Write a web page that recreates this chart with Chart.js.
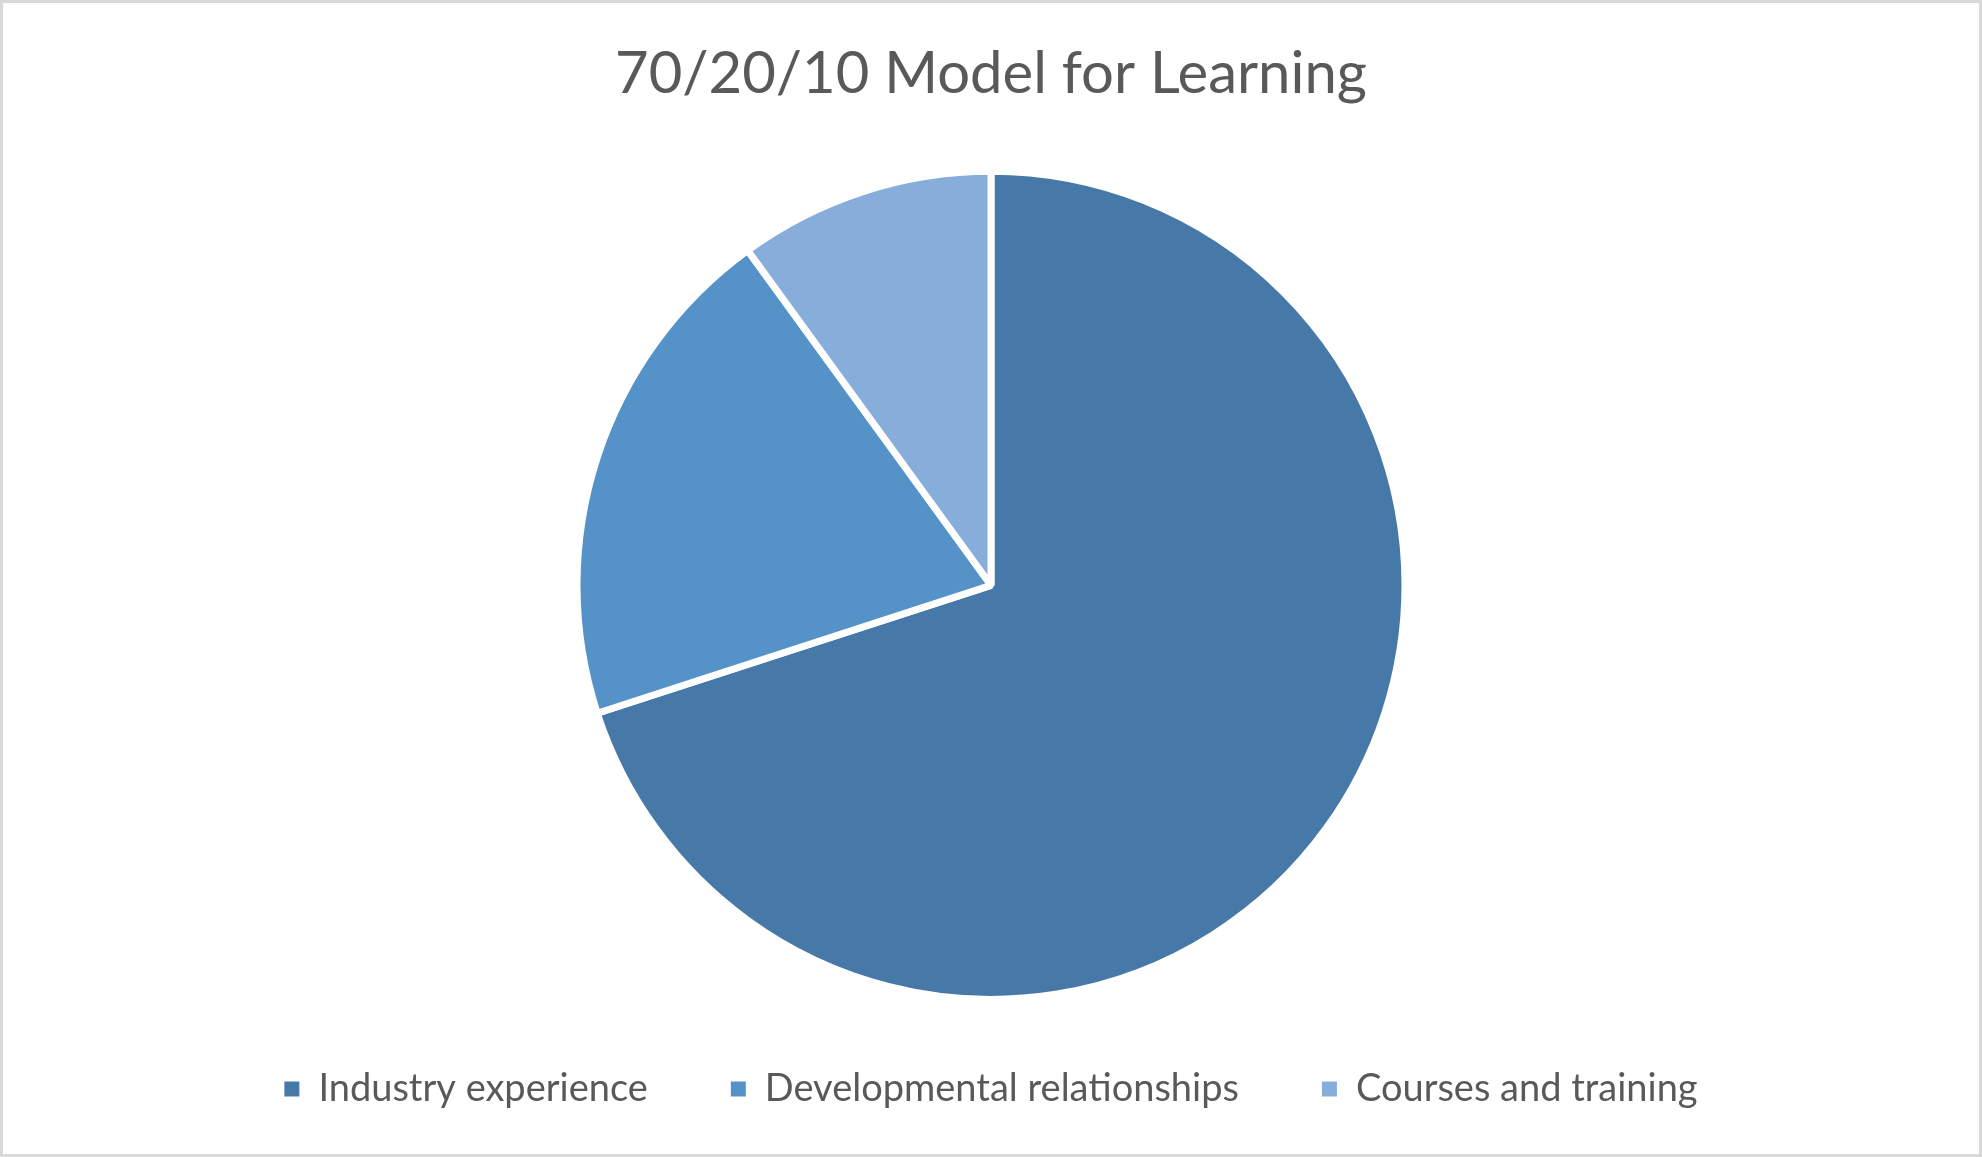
<!DOCTYPE html>
<html>
<head>
<meta charset="utf-8">
<script src="https://cdn.jsdelivr.net/npm/chart.js@4"></script>
<style>
  html, body { margin: 0; padding: 0; background: #fff; }
  #wrap {
    width: 1982px;
    height: 1157px;
    box-sizing: border-box;
    border: 3px solid #d9d9d9;
    background: #fff;
  }
  #pie-chart { display: block; }
</style>
</head>
<body>
<div id="wrap">
  <canvas id="pie-chart" width="1976" height="1151"></canvas>
</div>
<script>
const categories = ['Industry experience', 'Developmental relationships', 'Courses and training'];
const shares = [70, 20, 10];
const sliceColors = ['rgb(71, 121, 168)', 'rgb(85, 146, 200)', 'rgb(135, 174, 219)'];
const chartTitle = '70/20/10 Model for Learning';

const ctx = document.getElementById('pie-chart');

// default pie legend labels, but without the white slice border on the boxes
const baseLabels = Chart.overrides.pie.plugins.legend.labels.generateLabels;

new Chart(ctx, {
  type: 'pie',
  data: {
    labels: categories,
    datasets: [
      {
        data: shares,
        backgroundColor: sliceColors,
        borderColor: '#ffffff',
        borderWidth: 7,
        clip: false,
      },
    ],
  },
  options: {
    responsive: false,
    animation: false,
    radius: 414,
    layout: {
      padding: { bottom: 36 },
    },
    plugins: {
      title: {
        display: true,
        text: chartTitle,
        color: '#595959',
        font: {
          family: 'Lato',
          size: 58,
          weight: 'normal',
        },
        padding: { top: 36, bottom: 75 },
      },
      legend: {
        position: 'bottom',
        labels: {
          color: '#595959',
          boxWidth: 15,
          boxHeight: 15,
          padding: 83,
          font: {
            family: 'Lato',
            size: 38,
          },
          generateLabels: (chart) =>
            baseLabels(chart).map((item) => ({ ...item, lineWidth: 0, strokeStyle: 'rgba(0,0,0,0)' })),
        },
      },
      tooltip: { enabled: false },
    },
  },
});
</script>
</body>
</html>
